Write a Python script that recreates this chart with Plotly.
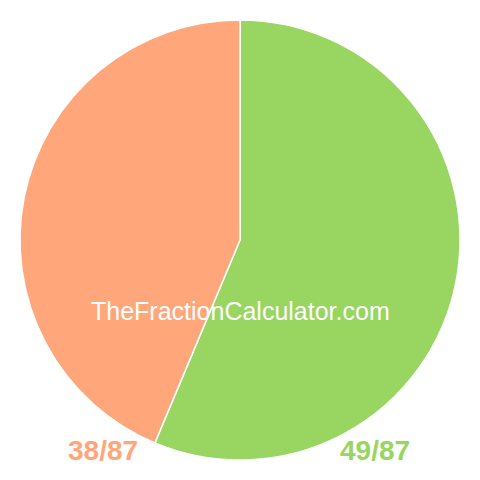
import plotly.graph_objects as go

labels = ["49/87", "38/87"]
values = [49, 38]
colors = ["#98D561", "#FFA67B"]
watermark = "TheFractionCalculator.com"

W = 480.0
OFF = 8  # page body margin offset compensation

def fx(px):
    return (px - OFF) / W

def fy(py):
    return 1 - (py - OFF) / W

fig = go.Figure(go.Pie(
    labels=labels, values=values, sort=False, direction="clockwise", rotation=0,
    marker=dict(colors=colors, line=dict(color="white", width=1.5)),
    textinfo="none", hoverinfo="label", showlegend=False,
    domain=dict(x=[fx(20), fx(460)], y=[fy(460), fy(20)]),
))

label_pos = {"38/87": (103, 450), "49/87": (375, 450)}
ann = [dict(text=watermark, x=fx(240), y=fy(311), xref="paper", yref="paper",
            xanchor="center", yanchor="middle",
            showarrow=False, font=dict(size=25, color="white"))]
for lab, col in zip(labels, colors):
    px, py = label_pos[lab]
    ann.append(dict(text="<b>%s</b>" % lab, x=fx(px), y=fy(py), xref="paper", yref="paper",
                    xanchor="center", yanchor="middle",
                    showarrow=False, font=dict(size=28, color=col)))

fig.update_layout(
    width=480, height=480,
    margin=dict(l=0, r=0, t=0, b=0),
    paper_bgcolor="white", plot_bgcolor="white",
    font=dict(family="Liberation Sans, Arial, sans-serif"),
    annotations=ann,
)

fig.write_html("out.html")
